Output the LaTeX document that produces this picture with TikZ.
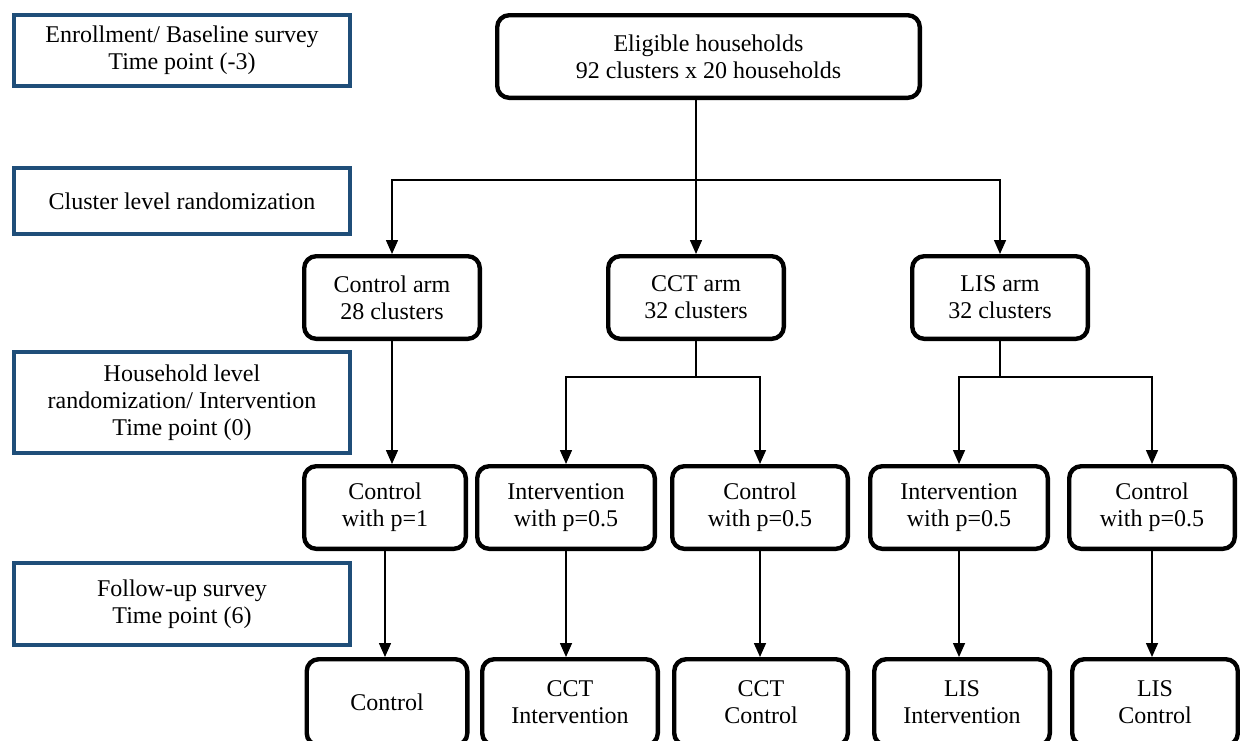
\documentclass[tikz,border=0pt]{standalone}
\usepackage{fontspec}
\setmainfont{Liberation Serif}
\usetikzlibrary{positioning,calc,arrows.meta}
\definecolor{phaseblue}{RGB}{31,78,121}

\begin{document}
\begin{tikzpicture}[
    font=\fontsize{12pt}{13.5pt}\selectfont,
    phase/.style={rectangle, draw=phaseblue, line width=1.8pt, minimum width=168.2pt, align=center},
    grp/.style={rectangle, rounded corners=6pt, draw, line width=2.2pt, minimum height=41.3pt, align=center},
    arr/.style={-{Triangle[width=6pt,length=7pt]}, line width=0.75pt}
]
\useasboundingbox (0,0) rectangle (620pt,-370pt);

% Phases
\node[phase, minimum height=35.7pt, anchor=north west] (enroll) at (6pt,-6.5pt) {Enrollment/ Baseline survey\\Time point (-3)};
\node[phase, minimum height=33.2pt, below=39pt of enroll] (clusterrand) {Cluster level randomization};
\node[phase, minimum height=50.7pt, below=57pt of clusterrand] (hhrand) {Household level\\randomization/ Intervention\\Time point (0)};
\node[phase, minimum height=41.2pt, below=53pt of hhrand] (followup) {Follow-up survey\\Time point (6)};

% Eligible households
\node[grp, minimum width=211.3pt, right=71.5pt of enroll.north east, anchor=north west] (eligible) {Eligible households\\92 clusters x 20 households};

% Arms
\node[grp, minimum width=87.8pt, below=77pt of eligible, xshift=-158.25pt] (ctrlarm) {Control arm\\28 clusters};
\node[grp, minimum width=87.8pt, below=77pt of eligible, xshift=-6.25pt] (cctarm) {CCT arm\\32 clusters};
\node[grp, minimum width=87.8pt, below=77pt of eligible, xshift=145.75pt] (lisarm) {LIS arm\\32 clusters};

% Household level
\node[grp, minimum width=80.8pt, below=61.5pt of ctrlarm, xshift=-3.5pt] (ctrl1) {Control\\with p=1};
\node[grp, minimum width=88.8pt, below=61.5pt of cctarm, xshift=-65pt] (cctint) {Intervention\\with p=0.5};
\node[grp, minimum width=87.8pt, below=61.5pt of cctarm, xshift=32pt] (cctctl) {Control\\with p=0.5};
\node[grp, minimum width=88.8pt, below=61.5pt of lisarm, xshift=-20.5pt] (lisint) {Intervention\\with p=0.5};
\node[grp, minimum width=82.8pt, below=61.5pt of lisarm, xshift=76pt] (lisctl) {Control\\with p=0.5};

% Follow-up
\node[grp, minimum width=80.3pt, minimum height=43pt, below=53pt of ctrl1, xshift=1pt] (ctrlend) {Control};
\node[grp, minimum width=87.8pt, minimum height=43pt, below=53pt of cctint, xshift=2pt] (cctintend) {CCT\\Intervention};
\node[grp, minimum width=86.8pt, minimum height=43pt, below=53pt of cctctl, xshift=0.5pt] (cctctlend) {CCT\\Control};
\node[grp, minimum width=87.8pt, minimum height=43pt, below=53pt of lisint, xshift=1.5pt] (lisintend) {LIS\\Intervention};
\node[grp, minimum width=82.8pt, minimum height=43pt, below=53pt of lisctl, xshift=1.5pt] (lisctlend) {LIS\\Control};

% Arrows
\coordinate (bar) at ($(eligible.south -| cctarm.north)+(0,-40pt)$);
\draw[arr] (eligible.south -| cctarm.north) -- (cctarm.north);
\draw[arr] (bar) -| (ctrlarm.north);
\draw[arr] (bar) -| (lisarm.north);

\draw[arr] (ctrlarm.south) -- (ctrlarm.south |- ctrl1.north);
\coordinate (cctsplit) at ($(cctarm.south)+(0,-18pt)$);
\draw[line width=0.75pt] (cctarm.south) -- (cctsplit);
\draw[arr] (cctsplit) -| (cctint.north);
\draw[arr] (cctsplit) -| (cctctl.north);
\coordinate (lissplit) at ($(lisarm.south)+(0,-18pt)$);
\draw[line width=0.75pt] (lisarm.south) -- (lissplit);
\draw[arr] (lissplit) -| (lisint.north);
\draw[arr] (lissplit) -| (lisctl.north);

\foreach \a/\b in {ctrl1/ctrlend, cctint/cctintend, cctctl/cctctlend, lisint/lisintend, lisctl/lisctlend}
    \draw[arr] (\a.south) -- (\a.south |- \b.north);

\end{tikzpicture}
\end{document}
